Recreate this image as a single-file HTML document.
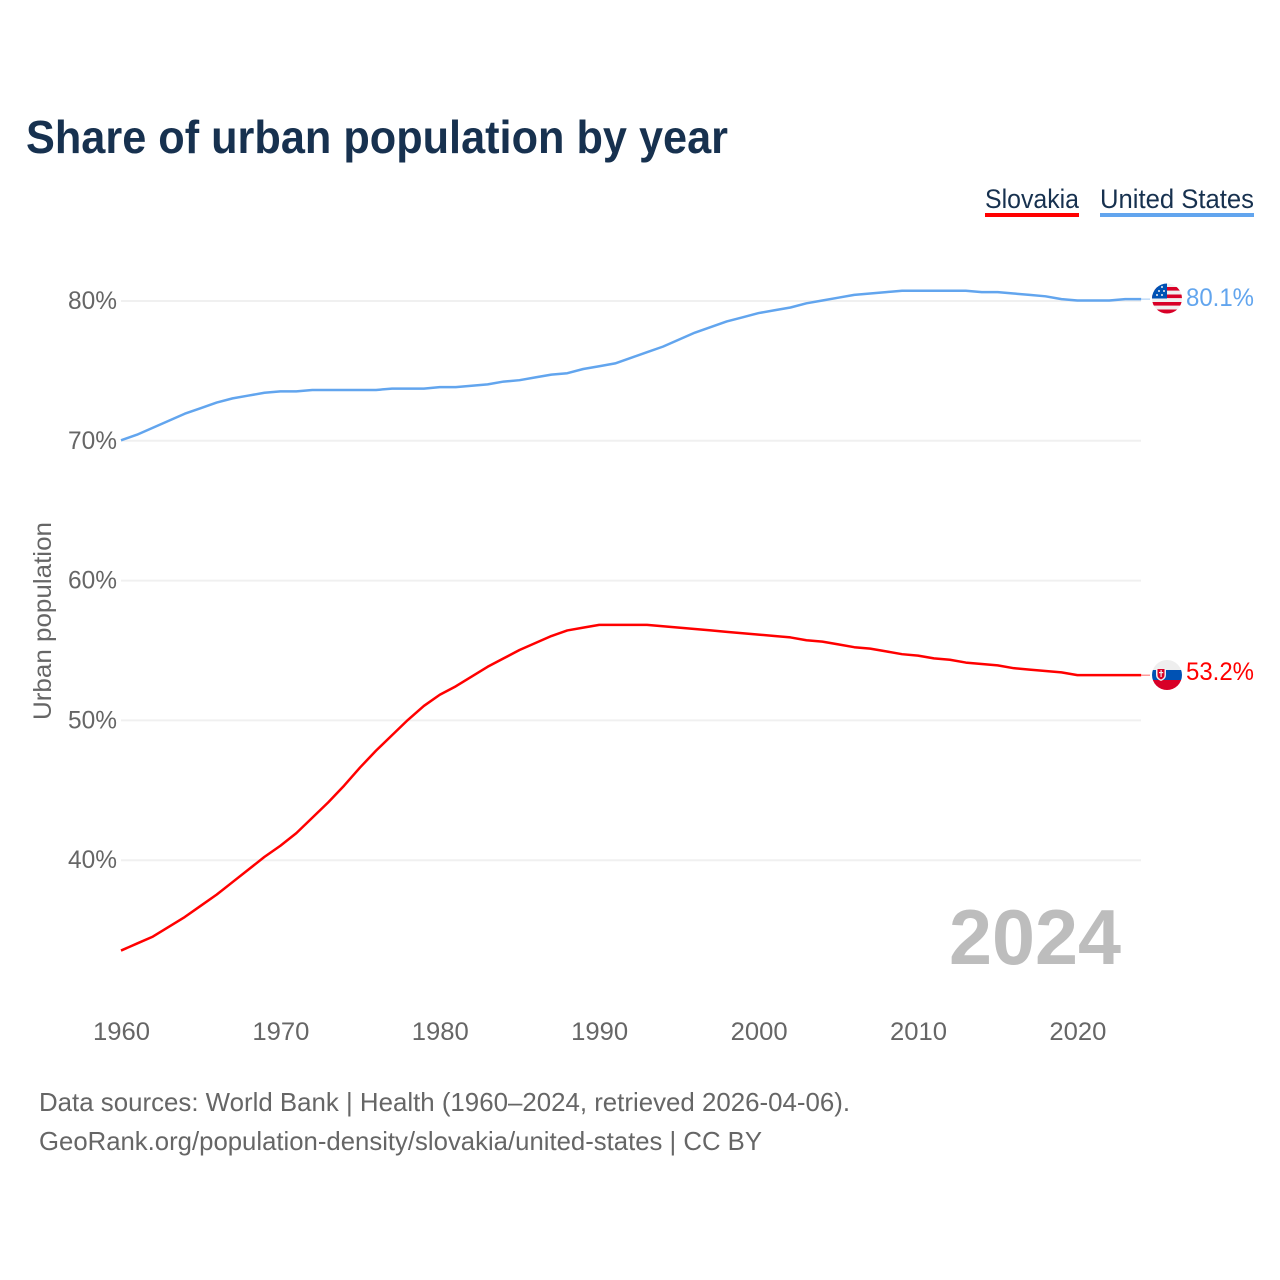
<!DOCTYPE html>
<html lang="en">
<head>
<meta charset="utf-8">
<title>Share of urban population by year</title>
<style>
html,body{margin:0;padding:0;background:#fff;width:1280px;height:1280px;overflow:hidden}
svg{display:block}
text{font-family:"Liberation Sans",sans-serif}
</style>
</head>
<body>
<svg id="chart" xmlns="http://www.w3.org/2000/svg" width="1280" height="1280" viewBox="0 0 1280 1280">
  <defs>
    <clipPath id="clip-us"><circle cx="1167" cy="298.5" r="15"/></clipPath>
    <clipPath id="clip-sk"><circle cx="1167" cy="675" r="15"/></clipPath>
  </defs>
  <rect x="0" y="0" width="1280" height="1280" fill="#ffffff"/>
  <text x="26" y="153" font-size="46" font-weight="700" fill="#17314f" textLength="702" lengthAdjust="spacingAndGlyphs">Share of urban population by year</text>

  <g>
    <text x="985" y="208" font-size="27" fill="#17314f" textLength="94" lengthAdjust="spacingAndGlyphs">Slovakia</text>
    <rect x="985" y="213" width="94" height="4" fill="#ff0000"/>
  </g>
  <g>
    <text x="1100" y="208" font-size="27" fill="#17314f" textLength="154" lengthAdjust="spacingAndGlyphs">United States</text>
    <rect x="1100" y="213" width="154" height="4" fill="#62a5ee"/>
  </g>

  <g id="grid"></g>
  <g id="yticks"></g>
  <g id="xticks"></g>

  <text transform="translate(51,621) rotate(-90)" text-anchor="middle" font-size="25" fill="#666666" textLength="198" lengthAdjust="spacingAndGlyphs">Urban population</text>

  <text x="949" y="964" font-size="78" font-weight="700" fill="#bdbdbd" textLength="172" lengthAdjust="spacingAndGlyphs">2024</text>

  <g id="series"></g>

  <g clip-path="url(#clip-us)">
    <rect x="1152" y="283" width="30" height="31" fill="#f0f0f0"/>
    <rect x="1152" y="287" width="30" height="3.600" fill="#d80027"/>
    <rect x="1152" y="294.500" width="30" height="3.600" fill="#d80027"/>
    <rect x="1152" y="302" width="30" height="3.600" fill="#d80027"/>
    <rect x="1152" y="309.500" width="30" height="5" fill="#d80027"/>
    <rect x="1152" y="283" width="15" height="15.500" fill="#0052b4"/>
    <circle cx="1157" cy="295" r="1" fill="#f0f0f0"/>
    <circle cx="1162" cy="295" r="1" fill="#f0f0f0"/>
    <circle cx="1164" cy="291" r="1" fill="#f0f0f0"/>
    <circle cx="1159" cy="291" r="1" fill="#f0f0f0"/>
    <circle cx="1162" cy="287" r="1" fill="#f0f0f0"/>
  </g>
  <text x="1186" y="306" font-size="25" fill="#62a5ee" textLength="68" lengthAdjust="spacingAndGlyphs">80.1%</text>

  <g clip-path="url(#clip-sk)">
    <rect x="1152" y="660" width="30" height="10" fill="#eeeeee"/>
    <rect x="1152" y="670" width="30" height="10" fill="#0052b4"/>
    <rect x="1152" y="680" width="30" height="10" fill="#d80027"/>
    <path d="M1156 668 h10 v7 q0 4 -5 6 q-5 -2 -5 -6 z" fill="#f0f0f0"/>
    <path d="M1157.500 669 h7 v6 q0 3 -3.500 4.500 q-3.500 -1.500 -3.500 -4.500 z" fill="#d80027"/>
    <rect x="1160.500" y="670" width="1.200" height="7" fill="#f0f0f0"/>
    <rect x="1159" y="672" width="4.200" height="1.200" fill="#f0f0f0"/>
  </g>
  <text x="1186" y="680" font-size="25" fill="#ff0000" textLength="68" lengthAdjust="spacingAndGlyphs">53.2%</text>

  <text x="39" y="1111" font-size="26" fill="#666666" textLength="811" lengthAdjust="spacingAndGlyphs">Data sources: World Bank | Health (1960–2024, retrieved 2026-04-06).</text>
  <text x="39" y="1150" font-size="26" fill="#666666" textLength="723" lengthAdjust="spacingAndGlyphs">GeoRank.org/population-density/slovakia/united-states | CC BY</text>
</svg>
<script>
const years = [1960,1961,1962,1963,1964,1965,1966,1967,1968,1969,1970,1971,1972,1973,1974,1975,1976,1977,1978,1979,1980,1981,1982,1983,1984,1985,1986,1987,1988,1989,1990,1991,1992,1993,1994,1995,1996,1997,1998,1999,2000,2001,2002,2003,2004,2005,2006,2007,2008,2009,2010,2011,2012,2013,2014,2015,2016,2017,2018,2019,2020,2021,2022,2023,2024];
const unitedStatesValues = [70.0,70.4,70.9,71.4,71.9,72.3,72.7,73.0,73.2,73.4,73.5,73.5,73.6,73.6,73.6,73.6,73.6,73.7,73.7,73.7,73.8,73.8,73.9,74.0,74.2,74.3,74.5,74.7,74.8,75.1,75.3,75.5,75.9,76.3,76.7,77.2,77.7,78.1,78.5,78.8,79.1,79.3,79.5,79.8,80.0,80.2,80.4,80.5,80.6,80.7,80.7,80.7,80.7,80.7,80.6,80.6,80.5,80.4,80.3,80.1,80.0,80.0,80.0,80.1,80.1];
const slovakiaValues = [33.5,34.0,34.5,35.2,35.9,36.7,37.5,38.4,39.3,40.2,41.0,41.9,43.0,44.1,45.3,46.6,47.8,48.9,50.0,51.0,51.8,52.4,53.1,53.8,54.4,55.0,55.5,56.0,56.4,56.6,56.8,56.8,56.8,56.8,56.7,56.6,56.5,56.4,56.3,56.2,56.1,56.0,55.9,55.7,55.6,55.4,55.2,55.1,54.9,54.7,54.6,54.4,54.3,54.1,54.0,53.9,53.7,53.6,53.5,53.4,53.2,53.2,53.2,53.2,53.2];
const yTickValues = [40,50,60,70,80];
const xTickValues = [1960,1970,1980,1990,2000,2010,2020];

const NS = 'http://www.w3.org/2000/svg';
const xScale = function (year) { return 121 + (year - 1960) * 15.94; };
const yScale = function (pct) { return 859.7 - (pct - 40) * 13.98; };

const gridGroup = document.getElementById('grid');
const yTickGroup = document.getElementById('yticks');
const xTickGroup = document.getElementById('xticks');
const seriesGroup = document.getElementById('series');

yTickValues.forEach(function (v) {
  const line = document.createElementNS(NS, 'line');
  
  
  line.setAttribute('x1', 121);
  line.setAttribute('x2', 1141);
  line.setAttribute('y1', yScale(v) + 0.5);
  line.setAttribute('y2', yScale(v) + 0.5);
  line.setAttribute('stroke', '#f0f0f0');
  line.setAttribute('stroke-width', 2);
  gridGroup.appendChild(line);

  const label = document.createElementNS(NS, 'text');
  
  
  label.setAttribute('x', 117);
  label.setAttribute('y', yScale(v) + 8.5);
  label.setAttribute('text-anchor', 'end');
  label.setAttribute('font-size', 25);
  label.setAttribute('fill', '#666666');
  label.setAttribute('textLength', 49);
  label.setAttribute('lengthAdjust', 'spacingAndGlyphs');
  label.textContent = v + '%';
  yTickGroup.appendChild(label);
});

xTickValues.forEach(function (year) {
  const label = document.createElementNS(NS, 'text');
  
  
  label.setAttribute('x', xScale(year) - 28);
  label.setAttribute('y', 1040);
  label.setAttribute('font-size', 25);
  label.setAttribute('fill', '#666666');
  label.setAttribute('textLength', 57);
  label.setAttribute('lengthAdjust', 'spacingAndGlyphs');
  label.textContent = year;
  xTickGroup.appendChild(label);
});

function drawSeries(values, color, name) {
  const d = values.map(function (v, i) {
    return (i ? 'L' : 'M') + xScale(years[i]).toFixed(2) + ' ' + yScale(v).toFixed(2);
  }).join(' ');
  const path = document.createElementNS(NS, 'path');
  
  
  path.setAttribute('d', d);
  path.setAttribute('fill', 'none');
  path.setAttribute('stroke', color);
  path.setAttribute('stroke-width', 2.5);
  path.setAttribute('stroke-linejoin', 'round');
  seriesGroup.appendChild(path);

  const last = values[values.length - 1];
  const lead = document.createElementNS(NS, 'line');
  
  
  lead.setAttribute('x1', xScale(years[years.length - 1]));
  lead.setAttribute('x2', 1150);
  lead.setAttribute('y1', yScale(last));
  lead.setAttribute('y2', yScale(last));
  lead.setAttribute('stroke', color);
  lead.setAttribute('stroke-width', 1);
  lead.setAttribute('opacity', 0.6);
  seriesGroup.appendChild(lead);
}

drawSeries(unitedStatesValues, '#62a5ee', 'line-united-states');
drawSeries(slovakiaValues, '#ff0000', 'line-slovakia');
</script>
</body>
</html>
